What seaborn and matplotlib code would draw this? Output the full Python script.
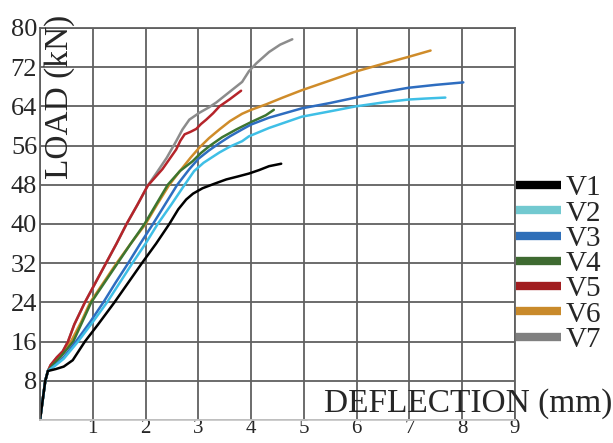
import matplotlib
matplotlib.use("Agg")
import matplotlib.pyplot as plt
from matplotlib.lines import Line2D
import pandas as pd
import seaborn as sns

# deflection (mm) / load (kN), one pair of lists per beam
v1_x = [0, 0.05, 0.1, 0.15, 0.3, 0.45, 0.62, 0.85, 1.1, 1.41, 1.93, 2.2, 2.45, 2.62, 2.77, 2.9, 3.08, 3.3, 3.53, 3.75, 3.96, 4.15, 4.34, 4.57]
v1_y = [0, 4, 8, 10, 10.4, 10.9, 12.2, 16, 19.5, 24, 32, 36, 40, 43, 45, 46.2, 47.3, 48.2, 49.1, 49.7, 50.3, 51, 51.8, 52.3]

v2_x = [0, 0.05, 0.1, 0.15, 0.3, 0.45, 0.72, 1.0, 1.27, 1.51, 1.75, 2.0, 2.23, 2.49, 2.74, 2.92, 3.1, 3.4, 3.6, 3.83, 3.96, 4.34, 4.96, 5.5, 5.98, 6.5, 6.98, 7.3, 7.68]
v2_y = [0, 4, 8, 10, 11.2, 12.5, 16, 20, 24, 28, 32, 36, 40, 44, 48, 50.8, 52.5, 54.6, 55.8, 56.9, 57.9, 59.6, 61.9, 63, 64, 64.8, 65.4, 65.6, 65.8]

v3_x = [0, 0.05, 0.1, 0.15, 0.3, 0.45, 0.68, 0.95, 1.2, 1.43, 1.67, 1.9, 2.14, 2.37, 2.6, 2.83, 3.0, 3.2, 3.4, 3.6, 3.83, 4.0, 4.34, 4.96, 5.5, 5.98, 6.5, 6.98, 7.5, 8.02]
v3_y = [0, 4, 8, 10, 11.3, 12.8, 16, 20, 24, 28, 32, 36, 40, 44, 48, 51.2, 53.3, 55, 56.5, 57.9, 59.3, 60.3, 61.7, 63.6, 64.7, 65.8, 66.9, 67.8, 68.4, 68.9]

v4_x = [0, 0.05, 0.1, 0.15, 0.25, 0.4, 0.63, 0.8, 0.97, 1.22, 1.47, 1.72, 1.98, 2.2, 2.42, 2.65, 2.89, 3.05, 3.21, 3.45, 3.72, 4.0, 4.28, 4.43]
v4_y = [0, 4, 8, 10, 11.3, 13, 16, 20, 24, 28, 32, 36, 40, 44, 48, 50.8, 52.8, 54.5, 55.9, 57.7, 59.3, 60.8, 62.2, 63.3]

v5_x = [0, 0.05, 0.1, 0.15, 0.2, 0.32, 0.43, 0.53, 0.65, 0.85, 1.05, 1.25, 1.45, 1.64, 1.85, 2.04, 2.18, 2.32, 2.45, 2.58, 2.66, 2.74, 2.85, 2.96, 3.05, 3.15, 3.28, 3.4, 3.6, 3.81]
v5_y = [0, 4, 8, 10, 11.2, 12.8, 14, 16, 19.5, 24, 28, 32, 36, 40, 44, 47.8, 49.5, 51.2, 53.2, 55.2, 57, 58.3, 58.8, 59.4, 60.4, 61.3, 62.6, 64, 65.5, 67.2]

v6_x = [0, 0.05, 0.1, 0.15, 0.25, 0.4, 0.6, 0.78, 0.95, 1.2, 1.45, 1.72, 2.0, 2.22, 2.45, 2.68, 2.85, 3.02, 3.2, 3.4, 3.6, 3.83, 4.0, 4.28, 4.6, 4.96, 5.5, 5.98, 6.5, 6.98, 7.4]
v6_y = [0, 4, 8, 10, 11.5, 13.3, 16.3, 20, 24, 28, 32, 36, 40, 44, 48, 51.2, 53.5, 55.6, 57.5, 59.3, 61, 62.5, 63.3, 64.4, 65.8, 67.3, 69.3, 71.1, 72.7, 74.1, 75.4]

v7_x = [0, 0.05, 0.1, 0.15, 0.2, 0.32, 0.43, 0.53, 0.65, 0.85, 1.05, 1.25, 1.45, 1.64, 1.85, 2.04, 2.2, 2.4, 2.58, 2.7, 2.83, 3.02, 3.2, 3.34, 3.55, 3.83, 3.96, 4.1, 4.34, 4.55, 4.78]
v7_y = [0, 4, 8, 10, 11.2, 12.8, 14, 16, 19.5, 24, 28, 32, 36, 40, 44, 47.8, 50.3, 53.5, 56.9, 59.3, 61.3, 62.7, 63.8, 64.8, 66.6, 69, 71.2, 72.8, 75.1, 76.6, 77.7]

names = ["V1", "V2", "V3", "V4", "V5", "V6", "V7"]
line_colors = ["#000000", "#3fbfe6", "#2e6dc0", "#3d7530", "#b5242a", "#cf8c2a", "#8c8c8c"]
legend_colors = ["#000000", "#72c9d0", "#2f6fb8", "#3e6a31", "#a11d20", "#c98a2b", "#808080"]

x_ticks = [0, 1, 2, 3, 4, 5, 6, 7, 8, 9]
y_ticks = [0, 8, 16, 24, 32, 40, 48, 56, 64, 72, 80]

series = [(v1_x, v1_y), (v2_x, v2_y), (v3_x, v3_y), (v4_x, v4_y),
          (v5_x, v5_y), (v6_x, v6_y), (v7_x, v7_y)]
frames = []
for name, (xs, ys) in zip(names, series):
    frames.append(pd.DataFrame({"deflection": xs, "load": ys, "beam": name}))
df = pd.concat(frames, ignore_index=True)

sns.set_style("white")
plt.rcParams["font.family"] = ["Liberation Serif", "DejaVu Serif"]

fig = plt.figure(figsize=(6.13, 4.43), dpi=100)
ax = fig.add_axes([40 / 613, 23 / 443, 475 / 613, 392 / 443])

# draw V7 first so the later beams sit on top, like the original
palette = dict(zip(names, line_colors))
sns.lineplot(data=df, x="deflection", y="load", hue="beam",
             hue_order=names[::-1], palette=palette, sort=False,
             estimator=None, lw=1.8, legend=False, ax=ax)

ax.set_xlim(0, 9)
ax.set_ylim(0, 80)
ax.set_xticks(x_ticks)
ax.set_yticks(y_ticks)
ax.set_xticklabels([""] + [str(t) for t in x_ticks[1:]])
ax.set_yticklabels([""] + [str(t) for t in y_ticks[1:]])
ax.tick_params(length=0, labelsize=19, pad=2)
ax.tick_params(axis="x", labelsize=15, pad=-1)
ax.grid(True, color="#606060", lw=1.3)
for s in ax.spines.values():
    s.set_color("#606060")
    s.set_linewidth(1.3)
ax.spines["bottom"].set_color("#c8c8c8")
ax.set_xlabel("")
ax.set_ylabel("")

fig.text(60 / 613, 1 - 97 / 443, "LOAD (kN)", rotation=90,
         ha="center", va="center", fontsize=24)
fig.text(0.999, 1 - 404 / 443, "DEFLECTION (mm)", ha="right",
         va="center", fontsize=24)

handles = [Line2D([0], [0], color=c, lw=6, solid_capstyle="butt") for c in legend_colors]
fig.legend(handles, names, loc="upper left", bbox_to_anchor=(516 / 613, 1 - 175 / 443),
           frameon=False, fontsize=21, handlelength=1.55, handletextpad=0.15,
           labelspacing=-0.04, borderpad=0, borderaxespad=0)

fig.savefig("out.png", dpi=100)
